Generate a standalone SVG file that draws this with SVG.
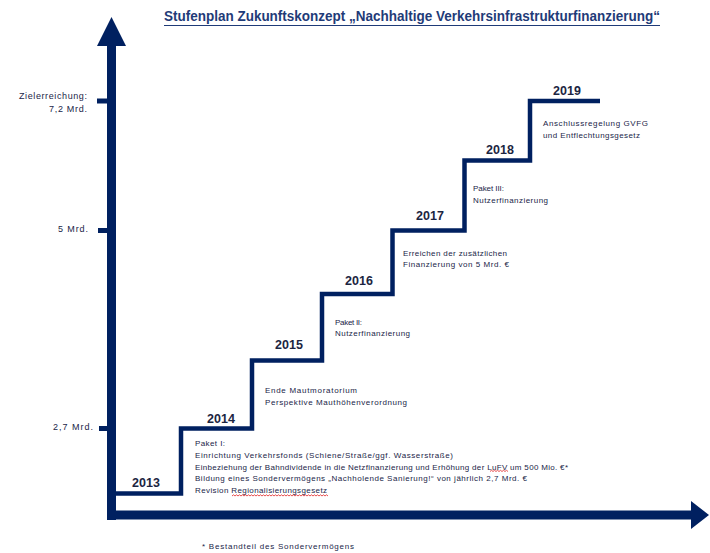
<svg xmlns="http://www.w3.org/2000/svg" width="710" height="553" viewBox="0 0 710 553">
<style>
.ax{fill:#002060;stroke:none}
.tick{stroke:#002060;stroke-width:5;fill:none}
.step{stroke:#002060;stroke-width:4.5;fill:none;stroke-linejoin:miter;stroke-linecap:butt}
.yr{font-family:"Liberation Sans",Arial,sans-serif;font-size:12.5px;font-weight:bold;fill:#1c2541;text-anchor:middle}
.tx{font-family:"Liberation Sans",Arial,sans-serif;font-size:8px;fill:#1a2548}
.lb{font-family:"Liberation Sans",Arial,sans-serif;font-size:9px;fill:#1a2548}
.title{font-family:"Liberation Sans",Arial,sans-serif;font-size:14px;font-weight:bold;fill:#1f3b78}
.wave{stroke:#e02020;stroke-width:0.8;fill:none}
</style>
<rect width="710" height="553" fill="#ffffff"/>
<g id="title">
<text class="title" x="164" y="21" textLength="496" lengthAdjust="spacingAndGlyphs">Stufenplan Zukunftskonzept „Nachhaltige Verkehrsinfrastrukturfinanzierung“</text>
<line x1="164" y1="25.5" x2="660" y2="25.5" stroke="#1f3b78" stroke-width="1"/>
</g>
<g id="axes">
<rect class="ax" x="107" y="44" width="9" height="476"/>
<polygon class="ax" points="97,46 111.5,17 126,46"/>
<rect class="ax" x="107" y="510.5" width="585" height="9"/>
<polygon class="ax" points="691,501 709,515 691,529"/>
<line class="tick" x1="97" y1="101" x2="108" y2="101"/>
<line class="tick" x1="98" y1="230.5" x2="108" y2="230.5"/>
<line class="tick" x1="99" y1="428.5" x2="108" y2="428.5"/>
<text class="lb" x="19" y="99" textLength="68" lengthAdjust="spacing">Zielerreichung:</text>
<text class="lb" x="49" y="111.5" textLength="38" lengthAdjust="spacing">7,2 Mrd.</text>
<text class="lb" x="58" y="231.5" textLength="30" lengthAdjust="spacing">5 Mrd.</text>
<text class="lb" x="53" y="429.5" textLength="40" lengthAdjust="spacing">2,7 Mrd.</text>
</g>
<g id="connectors">
<path class="step" d="M116,493.5 H181 V428.5 H252 V360.5 H322 V294 H392.5 V230.5 H464.5 V160.5 H530 V101 H600"/>
</g>
<g id="node-2013">
<text class="yr" x="146" y="487">2013</text>
</g>
<g id="node-2014">
<text class="yr" x="221" y="423">2014</text>
<text class="tx" x="195" y="446" textLength="30" lengthAdjust="spacing">Paket I:</text>
<text class="tx" x="195" y="458" textLength="258" lengthAdjust="spacing">Einrichtung Verkehrsfonds (Schiene/Straße/ggf. Wasserstraße)</text>
<text class="tx" x="195" y="469.5" textLength="373" lengthAdjust="spacing">Einbeziehung der Bahndividende in die Netzfinanzierung und Erhöhung der LuFV um 500 Mio. €*</text>
<text class="tx" x="195" y="481" textLength="332" lengthAdjust="spacing">Bildung eines Sondervermögens „Nachholende Sanierung!“ von jährlich 2,7 Mrd. €</text>
<text class="tx" x="195" y="493" textLength="132" lengthAdjust="spacing">Revision Regionalisierungsgesetz</text>
<path class="wave" d="M490,471.5 l1.5,-1.2 l1.5,1.2 l1.5,-1.2 l1.5,1.2 l1.5,-1.2 l1.5,1.2 l1.5,-1.2 l1.5,1.2 l1.5,-1.2 l1.5,1.2 l1.5,-1.2 l1.5,1.2"/>
<path class="wave" d="M232,496 l1.5,-1.2 l1.5,1.2 l1.5,-1.2 l1.5,1.2 l1.5,-1.2 l1.5,1.2 l1.5,-1.2 l1.5,1.2 l1.5,-1.2 l1.5,1.2 l1.5,-1.2 l1.5,1.2 l1.5,-1.2 l1.5,1.2 l1.5,-1.2 l1.5,1.2 l1.5,-1.2 l1.5,1.2 l1.5,-1.2 l1.5,1.2 l1.5,-1.2 l1.5,1.2 l1.5,-1.2 l1.5,1.2 l1.5,-1.2 l1.5,1.2 l1.5,-1.2 l1.5,1.2 l1.5,-1.2 l1.5,1.2 l1.5,-1.2 l1.5,1.2 l1.5,-1.2 l1.5,1.2 l1.5,-1.2 l1.5,1.2 l1.5,-1.2 l1.5,1.2 l1.5,-1.2 l1.5,1.2 l1.5,-1.2 l1.5,1.2 l1.5,-1.2 l1.5,1.2 l1.5,-1.2 l1.5,1.2 l1.5,-1.2 l1.5,1.2 l1.5,-1.2 l1.5,1.2 l1.5,-1.2 l1.5,1.2 l1.5,-1.2 l1.5,1.2 l1.5,-1.2 l1.5,1.2 l1.5,-1.2 l1.5,1.2 l1.5,-1.2 l1.5,1.2 l1.5,-1.2 l1.5,1.2 l1.5,-1.2 l1.5,1.2"/>
</g>
<g id="node-2015">
<text class="yr" x="289" y="349">2015</text>
<text class="tx" x="265" y="393" textLength="92" lengthAdjust="spacing">Ende Mautmoratorium</text>
<text class="tx" x="265" y="404.5" textLength="142" lengthAdjust="spacing">Perspektive Mauthöhenverordnung</text>
</g>
<g id="node-2016">
<text class="yr" x="359" y="285">2016</text>
<text class="tx" x="335" y="324.5" textLength="27" lengthAdjust="spacing">Paket II:</text>
<text class="tx" x="335" y="335.5" textLength="75" lengthAdjust="spacing">Nutzerfinanzierung</text>
</g>
<g id="node-2017">
<text class="yr" x="430" y="220">2017</text>
<text class="tx" x="403" y="255.5" textLength="104" lengthAdjust="spacing">Erreichen der zusätzlichen</text>
<text class="tx" x="403" y="267" textLength="106" lengthAdjust="spacing">Finanzierung von 5 Mrd. €</text>
</g>
<g id="node-2018">
<text class="yr" x="500" y="154">2018</text>
<text class="tx" x="473" y="191" textLength="31" lengthAdjust="spacing">Paket III:</text>
<text class="tx" x="473" y="202.5" textLength="75" lengthAdjust="spacing">Nutzerfinanzierung</text>
</g>
<g id="node-2019">
<text class="yr" x="567" y="95">2019</text>
<text class="tx" x="543" y="126" textLength="105" lengthAdjust="spacing">Anschlussregelung  GVFG</text>
<text class="tx" x="543" y="138" textLength="97" lengthAdjust="spacing">und Entflechtungsgesetz</text>
</g>
<g id="footnote">
<text class="tx" x="202" y="549" textLength="152" lengthAdjust="spacing">* Bestandteil des Sondervermögens</text>
</g>
</svg>
